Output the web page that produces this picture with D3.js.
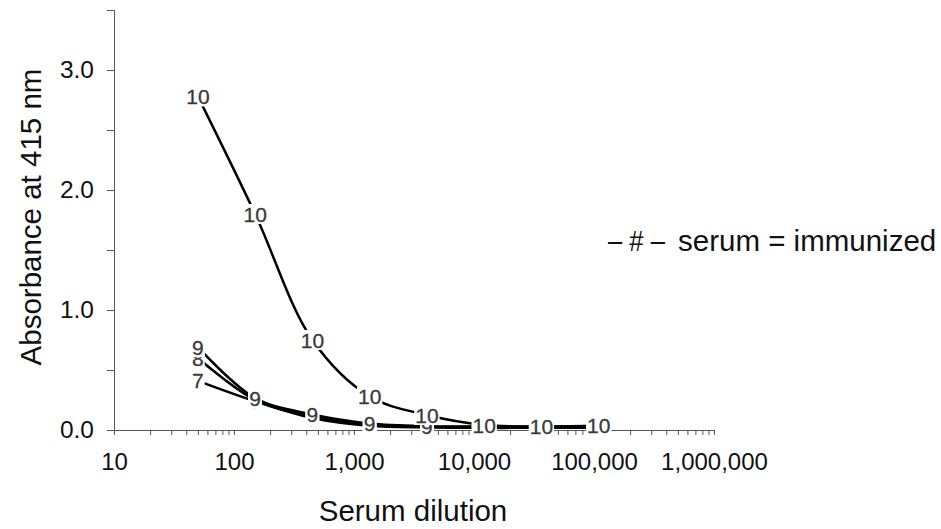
<!DOCTYPE html>
<html>
<head>
<meta charset="utf-8">
<script src="https://cdn.jsdelivr.net/npm/d3@7"></script>
<style>
    body { margin: 0; background: #fff; }
    svg text { font-family: "Liberation Sans", Arial, sans-serif; }
</style>
</head>
<body>
<div id="chart"></div>
<script>
// serum dilutions (3-fold series from 1:50)
const dilutions = [50, 150, 450, 1350, 4050, 12150, 36450, 109350];

// group numbers used as point markers
const groups = ["7", "8", "9", "10"];

// absorbance at 415 nm per group
const absorb7 = [0.41, 0.24, 0.10, 0.035, 0.022, 0.018, 0.018, 0.018];
const absorb8 = [0.60, 0.25, 0.115, 0.045, 0.028, 0.024, 0.022, 0.022];
const absorb9 = [0.69, 0.265, 0.13, 0.055, 0.032, 0.03, 0.028, 0.028];
const absorb10 = [2.78, 1.80, 0.75, 0.28, 0.125, 0.042, 0.03, 0.035];

const yTicks = [0, 0.5, 1, 1.5, 2, 2.5, 3];
const xTicks = [10, 100, 1000, 10000, 100000, 1000000];

const seriesValues = [absorb7, absorb8, absorb9, absorb10];

const width = 941, height = 529;

const svg = d3.select("#chart").append("svg")
    .attr("width", width)
    .attr("height", height);

// scales
const x = d3.scaleLog()
    .domain([10, 1000000])
    .range([114, 714]);

const y = d3.scaleLinear()
    .domain([0, 3.5])
    .range([430, 10]);

// y axis
const yAxis = d3.axisLeft(y)
    .tickValues(yTicks)
    .tickSize(7)
    .tickPadding(13)
    .tickFormat(d => Number.isInteger(d) ? d.toFixed(1) : "");

svg.append("g")
    .attr("transform", "translate(" + x.range()[0] + ",0)")
    .call(yAxis)
    .call(g => g.selectAll("path, line").attr("stroke", "#555"))
    .call(g => g.selectAll("text")
        .attr("font-size", 24.5)
        .attr("fill", "#111")
        .attr("font-family", "Liberation Sans, Arial, sans-serif"));

// x axis: log ticks at 1..9 of every decade
let minor = [];
for (let p = 1; p <= 5; p++) {
    for (let k = 1; k <= 9; k++) minor.push(k * Math.pow(10, p));
}
minor.push(1000000);

const xAxis = d3.axisBottom(x)
    .tickValues(minor)
    .tickSize(5)
    .tickPadding(18)
    .tickFormat(d => xTicks.includes(d) ? d3.format(",")(d) : "");

svg.append("g")
    .attr("transform", "translate(0," + y(0) + ")")
    .call(xAxis)
    .call(g => g.selectAll("path, line").attr("stroke", "#555"))
    .call(g => g.selectAll("text")
        .attr("font-size", 24)
        .attr("fill", "#111")
        .attr("font-family", "Liberation Sans, Arial, sans-serif"));

// axis titles
svg.append("text")
    .attr("transform", "translate(41,217) rotate(-90)")
    .attr("text-anchor", "middle")
    .attr("font-size", 29.5)
    .attr("fill", "#111")
    .text("Absorbance at 415 nm");

svg.append("text")
    .attr("x", 413)
    .attr("y", 521)
    .attr("text-anchor", "middle")
    .attr("font-size", 29.5)
    .attr("fill", "#111")
    .text("Serum dilution");

// legend
svg.append("text")
    .attr("x", 608)
    .attr("y", 251)
    .attr("font-size", 29)
    .attr("fill", "#111")
    .attr("textLength", 57)
    .attr("lengthAdjust", "spacingAndGlyphs")
    .text("\u2013 # \u2013");

svg.append("text")
    .attr("x", 678)
    .attr("y", 251)
    .attr("font-size", 29.5)
    .attr("fill", "#111")
    .text("serum = immunized");

// lines
const line = d3.line()
    .x((d, i) => x(dilutions[i]))
    .y(d => y(d))
    .curve(d3.curveCatmullRom.alpha(0.5));

svg.append("g")
    .selectAll("path")
    .data(seriesValues)
    .join("path")
    .attr("d", d => line(d))
    .attr("fill", "none")
    .attr("stroke", "#000")
    .attr("stroke-width", 2.5);

// number markers on white boxes, later groups cover earlier ones
seriesValues.forEach((vals, s) => {
    let marks = svg.append("g")
        .selectAll("g")
        .data(vals)
        .join("g")
        .attr("transform", (d, i) => "translate(" + x(dilutions[i]) + "," + y(d) + ")");

    let boxes = marks.append("rect")
        .attr("fill", "#fff");

    marks.append("text")
        .attr("dy", "0.36em")
        .attr("text-anchor", "middle")
        .attr("font-size", 21)
        .attr("fill", "#3a3a3a")
        .attr("stroke", "#3a3a3a")
        .attr("stroke-width", 0.3)
        .text(groups[s]);

    boxes.each(function() {
        let bb = this.parentNode.querySelector("text").getBBox();
        d3.select(this)
            .attr("x", bb.x - 1)
            .attr("y", -10)
            .attr("width", bb.width + 2)
            .attr("height", 20);
    });
});
</script>
</body>
</html>
